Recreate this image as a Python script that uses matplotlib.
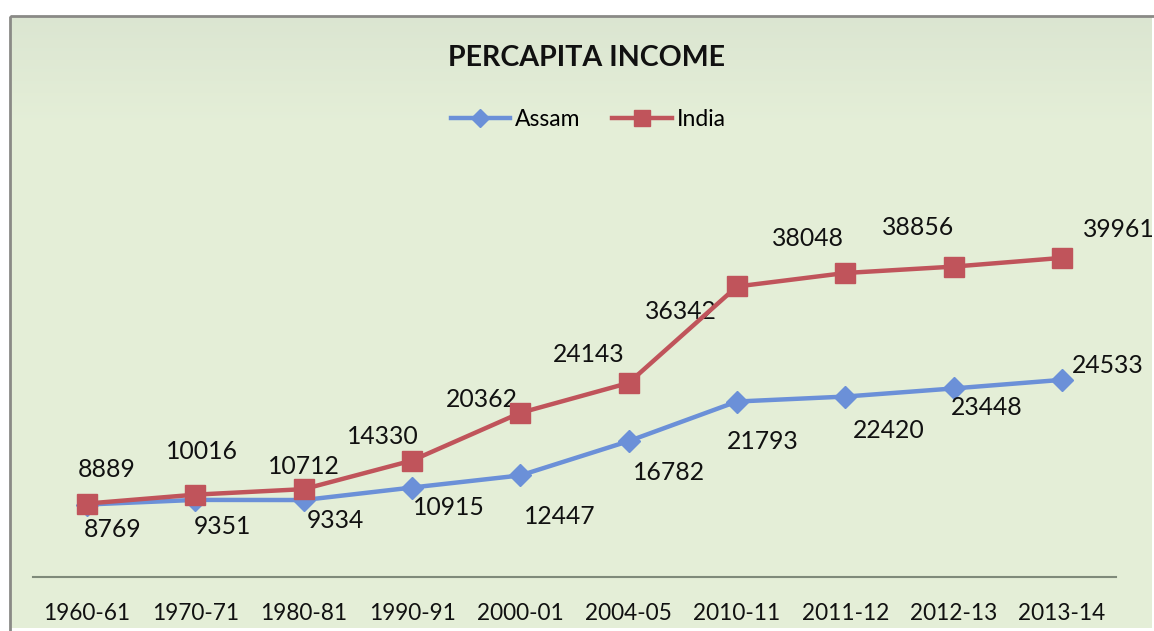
import numpy as np
import matplotlib.pyplot as plt
from matplotlib.patches import Rectangle

plt.rcParams['font.family'] = ['Lato', 'DejaVu Sans']

# data
years = ['1960-61', '1970-71', '1980-81', '1990-91', '2000-01',
         '2004-05', '2010-11', '2011-12', '2012-13', '2013-14']
assam = [8769, 9351, 9334, 10915, 12447, 16782, 21793, 22420, 23448, 24533]
india = [8889, 10016, 10712, 14330, 20362, 24143, 36342, 38048, 38856, 39961]

# label offsets in pixels (hand placed like the original)
assam_off = [(25, -25), (27, -27), (32, -20), (37, -20), (39, -41),
             (40, -31), (26, -40), (43, -34), (33, -19), (46, 14)]
india_off = [(19, 34), (6, 43), (0, 23), (-29, 24), (-38, 13),
             (-40, 28), (-56, -25), (-37, 35), (-35, 39), (57, 28)]

W, H = 1154, 631
fig = plt.figure(figsize=(W / 100, H / 100), dpi=100)
fig.patch.set_facecolor('white')

# chart area background with a soft gradient
bg = fig.add_axes([0, 0, 1, 1], zorder=0)
bg.set_xlim(0, W)
bg.set_ylim(H, 0)
bg.axis('off')
grad = np.linspace(0, 1, 200)[:, None]
top_c = np.array([0.86, 0.90, 0.82])
mid_c = np.array([0.895, 0.935, 0.845])
img = top_c + (mid_c - top_c) * np.clip(grad * 6, 0, 1)
img = np.repeat(img[:, None, :], 2, axis=1).reshape(200, 2, 3)
bg.imshow(img, extent=(11, 1152, 628, 17), aspect='auto', zorder=0)
bg.add_patch(Rectangle((10, 16), 1150, 620, fill=False,
                       edgecolor='#8a8a86', lw=2.0, zorder=1))

ax = fig.add_axes([33 / W, (H - 577) / H, 1083 / W, 398.5 / H], zorder=2)
ax.patch.set_alpha(0)
x = np.arange(len(years))

ax.plot(x, assam, color='#6b90d8', lw=3.2, marker='D', ms=11,
        markeredgecolor='#6b90d8', label='Assam', zorder=3)
ax.plot(x, india, color='#c0545b', lw=3.2, marker='s', ms=14,
        markeredgecolor='#c0545b', label='India', zorder=4)

for i in range(len(years)):
    ax.annotate(str(assam[i]), (x[i], assam[i]), xytext=assam_off[i],
                textcoords='offset pixels', ha='center', va='center',
                fontsize=17.8, color='#111111')
    ax.annotate(str(india[i]), (x[i], india[i]), xytext=india_off[i],
                textcoords='offset pixels', ha='center', va='center',
                fontsize=17.8, color='#111111')

ax.set_xlim(-0.5, len(years) - 0.5)
ax.set_ylim(-400, 50000)
ax.set_xticks(x)
ax.set_xticklabels(years, fontsize=16.3, color='#111111')
ax.tick_params(axis='x', length=0, pad=19)
ax.set_yticks([])
for s in ['top', 'right', 'left']:
    ax.spines[s].set_visible(False)
ax.spines['bottom'].set_color('#7f8a7a')
ax.spines['bottom'].set_linewidth(1.5)

fig.text(586 / W, 1 - 58 / H, 'PERCAPITA INCOME', ha='center', va='center',
         fontsize=20.6, fontweight='bold', color='#111111')

leg = ax.legend(loc='center', bbox_to_anchor=(588 / W, 1 - 120 / H),
                bbox_transform=fig.transFigure, ncol=2, frameon=False,
                fontsize=16.5, handlelength=2.6, handletextpad=0.2,
                columnspacing=1.4, markerscale=0.8)

fig.savefig('out.png', dpi=100)
